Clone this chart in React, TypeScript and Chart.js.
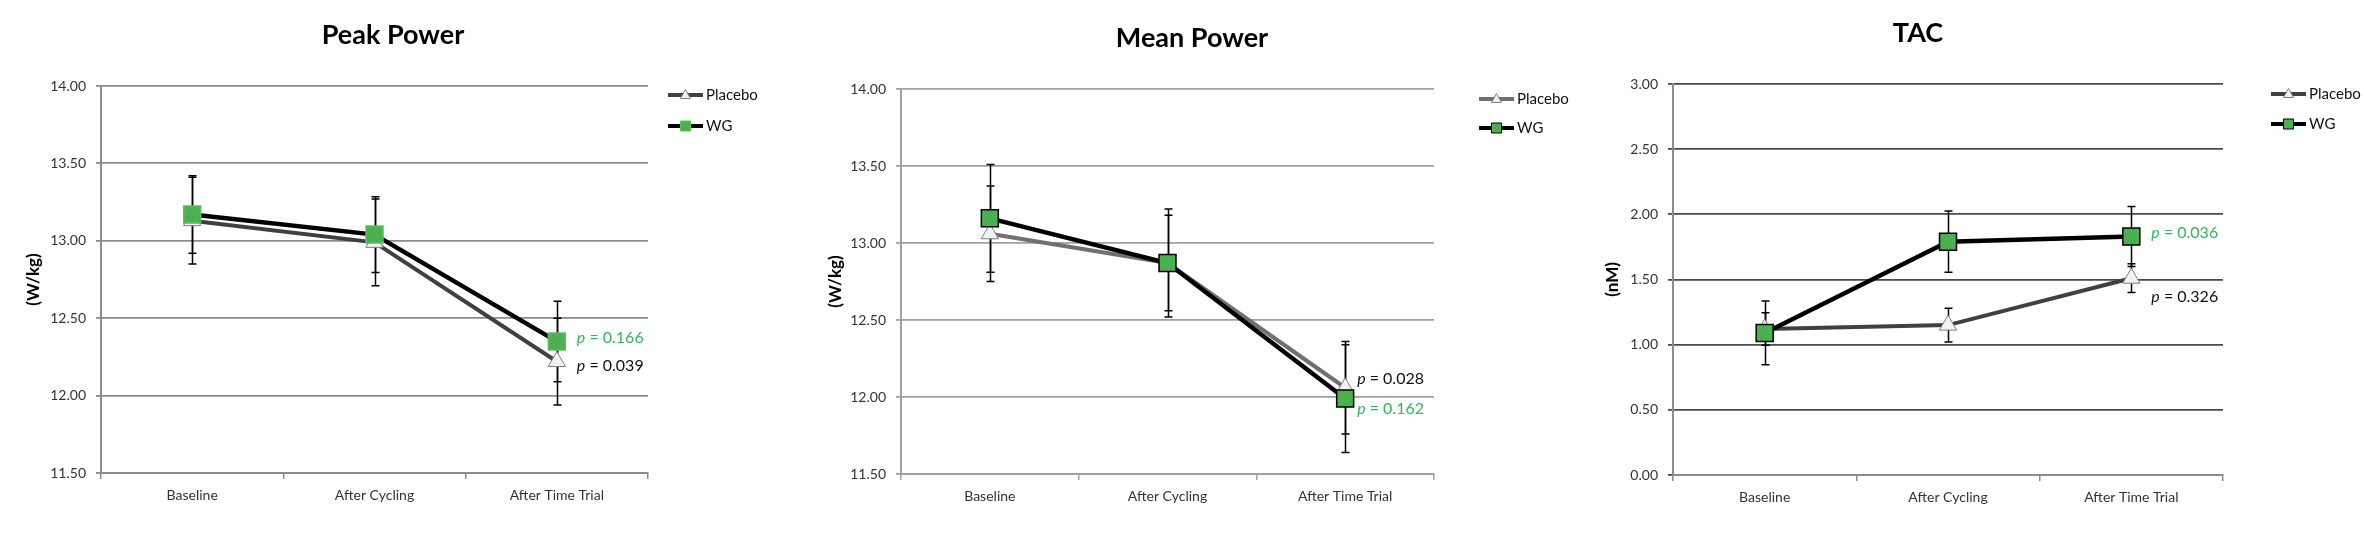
import React, { useEffect, useRef } from 'react';
import { Chart, registerables } from 'chart.js';

Chart.register(...registerables);
Chart.defaults.font.family = "Lato, 'Open Sans', sans-serif";

// ---------- data ----------
const categories = ['Baseline', 'After Cycling', 'After Time Trial'];
const seriesNames = ['Placebo', 'WG'];

const peakTicks = [11.5, 12.0, 12.5, 13.0, 13.5, 14.0];
const peakPlacebo = [13.13, 12.99, 12.22];
const peakPlaceboErr = [0.28, 0.28, 0.28];
const peakWG = [13.17, 13.04, 12.35];
const peakWGErr = [0.25, 0.245, 0.26];
const peakP = ['0.039', '0.166'];

const meanTicks = [11.5, 12.0, 12.5, 13.0, 13.5, 14.0];
const meanPlacebo = [13.06, 12.87, 12.06];
const meanPlaceboErr = [0.31, 0.31, 0.3];
const meanWG = [13.16, 12.87, 11.99];
const meanWGErr = [0.35, 0.35, 0.35];
const meanP = ['0.028', '0.162'];

const tacTicks = [0.0, 0.5, 1.0, 1.5, 2.0, 2.5, 3.0];
const tacPlacebo = [1.12, 1.15, 1.51];
const tacPlaceboErr = [0.125, 0.13, 0.11];
const tacWG = [1.09, 1.79, 1.83];
const tacWGErr = [0.245, 0.235, 0.23];
const tacP = ['0.326', '0.036'];

// ---------- layout / style per panel (absolute page pixels) ----------
const GREEN = '#4caf50';
const PGREEN = '#35b55c';

const panels = [
  {
    title: 'Peak Power', yTitle: '(W/kg)', ticks: peakTicks,
    placebo: peakPlacebo, placeboErr: peakPlaceboErr, wg: peakWG, wgErr: peakWGErr, p: peakP,
    canvasLeft: 0, canvasWidth: 780,
    area: { left: 101, right: 648, top: 86, bottom: 473 },
    titleX: 393, titleY: 35, yTitleX: 34,
    legendX: 668, legendY: [95, 126],
    pOffset: 20, pAt: [12.19, 12.37],
    gridColor: '#8c8c8c', axisColor: '#8c8c8c', placeboColor: '#404040', wgBorder: '#5cbf62',
  },
  {
    title: 'Mean Power', yTitle: '(W/kg)', ticks: meanTicks,
    placebo: meanPlacebo, placeboErr: meanPlaceboErr, wg: meanWG, wgErr: meanWGErr, p: meanP,
    canvasLeft: 780, canvasWidth: 800,
    area: { left: 901, right: 1434, top: 89, bottom: 474 },
    titleX: 1192, titleY: 38, yTitleX: 836,
    legendX: 1479, legendY: [99, 128],
    pOffset: 12, pAt: [12.12, 11.92],
    gridColor: '#a0a0a0', axisColor: '#a0a0a0', placeboColor: '#707070', wgBorder: '#000000',
  },
  {
    title: 'TAC', yTitle: '(nM)', ticks: tacTicks,
    placebo: tacPlacebo, placeboErr: tacPlaceboErr, wg: tacWG, wgErr: tacWGErr, p: tacP,
    canvasLeft: 1580, canvasWidth: 784,
    area: { left: 1673, right: 2223, top: 84, bottom: 475 },
    titleX: 1918, titleY: 33, yTitleX: 1613,
    legendX: 2271, legendY: [94, 124],
    pOffset: 20, pAt: [1.37, 1.86],
    gridColor: '#4a4a4a', axisColor: '#8c8c8c', placeboColor: '#404040', wgBorder: '#000000',
  },
];

const decorPlugin = {
  id: 'decor',
  beforeDatasetsDraw(chart: any) {
    const ctx = chart.ctx;
    const ys = chart.scales.y;
    ctx.save();
    ctx.strokeStyle = '#000';
    ctx.lineWidth = 1.5;
    chart.data.datasets.forEach((ds: any, i: number) => {
      const meta = chart.getDatasetMeta(i);
      meta.data.forEach((pt: any, j: number) => {
        const v = ds.data[j];
        const e = ds.errorBars[j];
        const x = Math.round(pt.x) + 0.5;
        const yT = ys.getPixelForValue(v + e);
        const yB = ys.getPixelForValue(v - e);
        ctx.beginPath();
        ctx.moveTo(x, yT); ctx.lineTo(x, yB);
        ctx.moveTo(x - 4, yT); ctx.lineTo(x + 4, yT);
        ctx.moveTo(x - 4, yB); ctx.lineTo(x + 4, yB);
        ctx.stroke();
      });
    });
    ctx.restore();
  },
  afterDraw(chart: any) {
    const o = chart.options.plugins.decor;
    const ctx = chart.ctx;
    ctx.save();
    // title
    ctx.fillStyle = '#000';
    ctx.font = "bold 27px Lato, 'Open Sans', sans-serif";
    ctx.textAlign = 'center';
    ctx.textBaseline = 'middle';
    ctx.fillText(o.title, o.titleX, o.titleY);

    // legend
    chart.data.datasets.forEach((ds: any, k: number) => {
      const y = o.legendY[k];
      const x0 = o.legendX;
      ctx.strokeStyle = ds.borderColor;
      ctx.lineWidth = 4;
      ctx.lineCap = 'butt';
      ctx.beginPath();
      ctx.moveTo(x0, y); ctx.lineTo(x0 + 35, y);
      ctx.stroke();
      const cx = x0 + 17.5;
      ctx.fillStyle = ds.pointBackgroundColor;
      ctx.strokeStyle = ds.pointBorderColor;
      ctx.lineWidth = 1;
      ctx.beginPath();
      if (ds.pointStyle === 'triangle') {
        ctx.moveTo(cx, y - 5.5);
        ctx.lineTo(cx + 5, y + 3.5);
        ctx.lineTo(cx - 5, y + 3.5);
        ctx.closePath();
      } else {
        ctx.rect(cx - 5, y - 5, 10, 10);
      }
      ctx.fill();
      ctx.stroke();
      ctx.fillStyle = '#111';
      ctx.font = "15px Lato, 'Open Sans', sans-serif";
      ctx.textAlign = 'left';
      ctx.textBaseline = 'middle';
      ctx.fillText(ds.label, x0 + 38, y);
    });

    // p-values
    const xs = chart.scales.x;
    const ys = chart.scales.y;
    const px = xs.getPixelForValue(categories.length - 1) + o.pOffset;
    o.pLabels.forEach((pl: any) => {
      const y = ys.getPixelForValue(pl.at);
      ctx.fillStyle = pl.color;
      ctx.textAlign = 'left';
      ctx.textBaseline = 'middle';
      ctx.font = "italic 16px Lato, 'Open Sans', sans-serif";
      ctx.fillText('p', px, y);
      const w = ctx.measureText('p').width;
      ctx.font = "16px Lato, 'Open Sans', sans-serif";
      ctx.fillText(' = ' + pl.text, px + w, y);
    });
    ctx.restore();
  },
};

function Panel({ cfg }: { cfg: any }) {
  const ref = useRef<HTMLCanvasElement>(null);
  useEffect(() => {
    const L = cfg.canvasLeft;
    const a = cfg.area;
    const chart = new Chart(ref.current as HTMLCanvasElement, {
      type: 'line',
      data: {
        labels: categories,
        datasets: [
          {
            label: seriesNames[0],
            data: cfg.placebo,
            errorBars: cfg.placeboErr,
            borderColor: cfg.placeboColor,
            borderWidth: 4,
            pointStyle: 'triangle',
            pointRadius: 10,
            pointBackgroundColor: '#f2f2f2',
            pointBorderColor: '#7f7f7f',
            pointBorderWidth: 1,
            order: 2,
          } as any,
          {
            label: seriesNames[1],
            data: cfg.wg,
            errorBars: cfg.wgErr,
            borderColor: '#000000',
            borderWidth: 4.5,
            pointStyle: 'rect',
            pointRadius: 12,
            pointBackgroundColor: GREEN,
            pointBorderColor: cfg.wgBorder,
            pointBorderWidth: 1.5,
            order: 1,
          } as any,
        ],
      },
      options: {
        responsive: false,
        animation: false,
        devicePixelRatio: 1,
        layout: { padding: { top: a.top, right: cfg.canvasLeft + cfg.canvasWidth - a.right, bottom: 0, left: 0 } },
        plugins: {
          legend: { display: false },
          tooltip: { enabled: false },
          decor: {
            title: cfg.title,
            titleX: cfg.titleX - L,
            titleY: cfg.titleY,
            legendX: cfg.legendX - L,
            legendY: cfg.legendY,
            pOffset: cfg.pOffset,
            pLabels: [
              { text: cfg.p[0], at: cfg.pAt[0], color: '#111' },
              { text: cfg.p[1], at: cfg.pAt[1], color: PGREEN },
            ],
          },
        } as any,
        scales: {
          x: {
            type: 'category',
            offset: true,
            grid: { offset: true, drawOnChartArea: false, drawTicks: true, tickLength: 6, color: cfg.axisColor, lineWidth: 1.5 },
            border: { display: true, color: cfg.axisColor, width: 2 },
            ticks: { color: '#333', font: { size: 14 }, padding: 8, maxRotation: 0, autoSkip: false },
            afterFit: (s: any) => { s.height = 548 - a.bottom; },
          },
          y: {
            min: cfg.ticks[0],
            max: cfg.ticks[cfg.ticks.length - 1],
            afterBuildTicks: (s: any) => { s.ticks = cfg.ticks.map((v: number) => ({ value: v })); },
            ticks: { color: '#333', font: { size: 14 }, padding: 10, callback: (v: any) => Number(v).toFixed(2) },
            grid: { color: cfg.gridColor, lineWidth: 1.8, tickLength: 5, drawTicks: true },
            border: { display: true, color: cfg.axisColor, width: 2 },
            title: {
              display: true, text: cfg.yTitle, color: '#000',
              font: { size: 17, weight: 'bold' },
              padding: { top: cfg.yTitleX - L - 10.2, bottom: 0 },
            },
            afterFit: (s: any) => { s.width = a.left - L; },
          },
        },
      },
      plugins: [decorPlugin],
    });
    return () => chart.destroy();
  }, [cfg]);
  return (
    <canvas
      ref={ref}
      width={cfg.canvasWidth}
      height={548}
      style={{ position: 'absolute', left: cfg.canvasLeft, top: 0, width: cfg.canvasWidth, height: 548 }}
    />
  );
}

export default function App() {
  return (
    <div style={{ position: 'fixed', left: 0, top: 0, width: 2364, height: 548, background: '#ffffff', overflow: 'hidden' }}>
      {panels.map((p, i) => (
        <Panel key={i} cfg={p} />
      ))}
    </div>
  );
}
